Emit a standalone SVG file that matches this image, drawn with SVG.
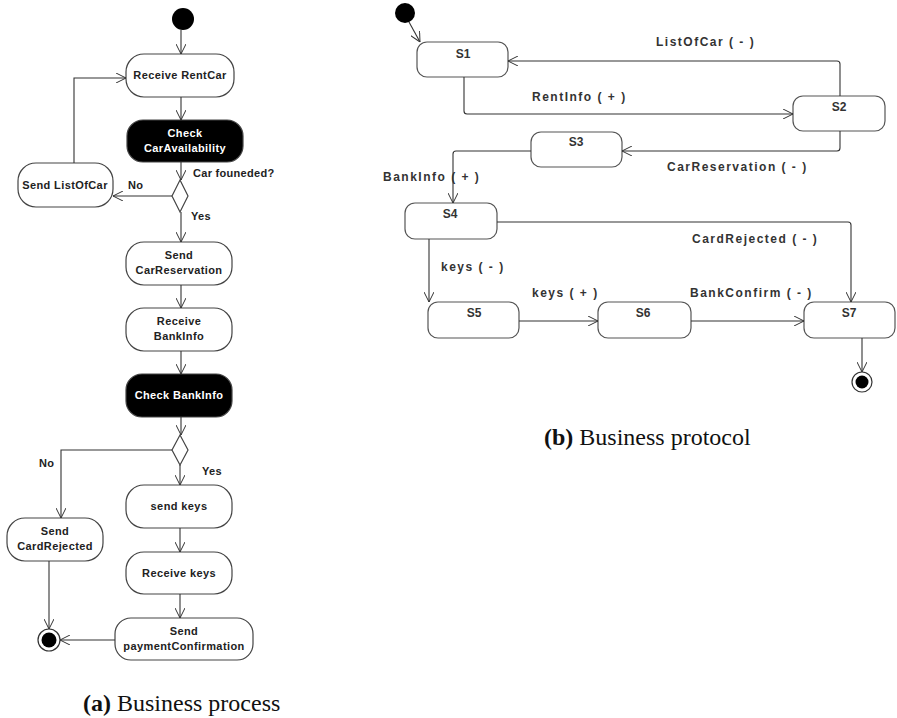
<svg xmlns="http://www.w3.org/2000/svg" width="897" height="718" viewBox="0 0 897 718">
  <defs>
    <marker id="open" viewBox="0 0 10 10" refX="10" refY="5" markerWidth="10" markerHeight="10" markerUnits="userSpaceOnUse" orient="auto">
      <path d="M0,0 L10,5 L0,10" fill="none" stroke="#333" stroke-width="1"/>
    </marker>
    <style>
      .act { fill: #fff; stroke: #444; stroke-width: 1.2; }
      .actd { fill: #000; stroke: #444; stroke-width: 1.2; }
      .st { fill: #fff; stroke: #555; stroke-width: 1.2; }
      .edge { fill: none; stroke: #333; stroke-width: 1.1; marker-end: url(#open); }
      .line { fill: none; stroke: #333; stroke-width: 1.1; }
      .t { font-family: "Liberation Sans", Arial, sans-serif; font-weight: bold; font-size: 11px; letter-spacing: 0.4px; fill: #222; text-anchor: middle; }
      .tw { fill: #fff; }
      .tl { font-family: "Liberation Sans", Arial, sans-serif; font-weight: bold; font-size: 11px; letter-spacing: 0.3px; fill: #222; }
      .s { font-family: "Liberation Sans", Arial, sans-serif; font-weight: bold; font-size: 12px; letter-spacing: 1.5px; fill: #333; }
      .sn { font-family: "Liberation Sans", Arial, sans-serif; font-weight: bold; font-size: 12px; fill: #333; text-anchor: middle; }
      .cap { font-family: "Liberation Serif", "Times New Roman", serif; font-size: 24px; fill: #111; }
    </style>
  </defs>

  <!-- (a) business process: activity diagram -->
  <g id="a-start"><circle cx="183" cy="19" r="11" fill="#000"/></g>
  <g id="a-receive-rentcar">
    <rect class="act" x="126" y="54" width="108" height="43" rx="18"/>
    <text class="t" x="180" y="79">Receive RentCar</text>
  </g>
  <g id="a-check-car">
    <rect class="actd" x="127" y="120" width="116" height="42" rx="16"/>
    <text class="t tw" x="185" y="137">Check</text>
    <text class="t tw" x="185" y="152">CarAvailability</text>
  </g>
  <g id="a-decision-1"><polygon class="act" points="180,180 188,196 180,212 172,196"/></g>
  <g id="a-send-listofcar">
    <rect class="act" x="18" y="163" width="95" height="44" rx="18"/>
    <text class="t" x="65" y="189">Send ListOfCar</text>
  </g>
  <g id="a-send-carreservation">
    <rect class="act" x="126" y="242" width="106" height="43" rx="18"/>
    <text class="t" x="179" y="259">Send</text>
    <text class="t" x="179" y="274">CarReservation</text>
  </g>
  <g id="a-receive-bankinfo">
    <rect class="act" x="126" y="308" width="106" height="43" rx="18"/>
    <text class="t" x="179" y="325">Receive</text>
    <text class="t" x="179" y="340">BankInfo</text>
  </g>
  <g id="a-check-bankinfo">
    <rect class="actd" x="126" y="374" width="106" height="43" rx="16"/>
    <text class="t tw" x="179" y="399">Check BankInfo</text>
  </g>
  <g id="a-decision-2"><polygon class="act" points="180,435 188,450 180,465 172,450"/></g>
  <g id="a-send-keys">
    <rect class="act" x="126" y="485" width="106" height="43" rx="18"/>
    <text class="t" x="179" y="510">send keys</text>
  </g>
  <g id="a-receive-keys">
    <rect class="act" x="126" y="552" width="106" height="42" rx="18"/>
    <text class="t" x="179" y="577">Receive keys</text>
  </g>
  <g id="a-send-payment">
    <rect class="act" x="115" y="618" width="138" height="42" rx="16"/>
    <text class="t" x="184" y="635">Send</text>
    <text class="t" x="184" y="650">paymentConfirmation</text>
  </g>
  <g id="a-send-cardrejected">
    <rect class="act" x="7" y="518" width="96" height="43" rx="18"/>
    <text class="t" x="55" y="535">Send</text>
    <text class="t" x="55" y="550">CardRejected</text>
  </g>
  <g id="a-end">
    <circle cx="49" cy="640" r="11" fill="#fff" stroke="#333" stroke-width="1.2"/>
    <circle cx="49" cy="640" r="7.5" fill="#000"/>
  </g>

  <g id="a-connectors">
    <path class="edge" d="M181,30 V54"/>
    <path class="edge" d="M181,97 V120"/>
    <path class="edge" d="M181,162 V180"/>
    <path class="edge" d="M172,196 H113"/>
    <path class="edge" d="M74,163 V78 H126"/>
    <path class="edge" d="M181,212 V242"/>
    <path class="edge" d="M181,285 V308"/>
    <path class="edge" d="M181,351 V374"/>
    <path class="edge" d="M181,417 V435"/>
    <path class="edge" d="M172,450 H61 V518"/>
    <path class="edge" d="M180,465 V485"/>
    <path class="edge" d="M180,528 V552"/>
    <path class="edge" d="M180,594 V618"/>
    <path class="edge" d="M49,561 V629"/>
    <path class="edge" d="M115,640 H60"/>
    <text class="tl" x="193" y="177">Car founeded?</text>
    <text class="tl" x="128" y="189">No</text>
    <text class="tl" x="191" y="220">Yes</text>
    <text class="tl" x="39" y="467">No</text>
    <text class="tl" x="202" y="475">Yes</text>
  </g>

  <text class="cap" x="83" y="711"><tspan font-weight="bold">(a)</tspan> Business process</text>

  <!-- (b) business protocol: state machine -->
  <g id="b-start"><circle cx="405" cy="13" r="10" fill="#000"/></g>
  <g id="b-s1"><rect class="st" x="417" y="42" width="91" height="35" rx="10"/><text class="sn" x="463" y="58">S1</text></g>
  <g id="b-s2"><rect class="st" x="793" y="96" width="92" height="35" rx="10"/><text class="sn" x="839" y="111">S2</text></g>
  <g id="b-s3"><rect class="st" x="531" y="132" width="91" height="35" rx="10"/><text class="sn" x="576" y="146">S3</text></g>
  <g id="b-s4"><rect class="st" x="405" y="203" width="92" height="36" rx="10"/><text class="sn" x="450" y="218">S4</text></g>
  <g id="b-s5"><rect class="st" x="428" y="302" width="91" height="36" rx="10"/><text class="sn" x="474" y="317">S5</text></g>
  <g id="b-s6"><rect class="st" x="598" y="302" width="93" height="36" rx="10"/><text class="sn" x="643" y="317">S6</text></g>
  <g id="b-s7"><rect class="st" x="804" y="302" width="91" height="36" rx="10"/><text class="sn" x="849" y="317">S7</text></g>
  <g id="b-end">
    <circle cx="862" cy="382" r="10" fill="#fff" stroke="#333" stroke-width="1.2"/>
    <circle cx="862" cy="382" r="6.5" fill="#000"/>
  </g>

  <g id="b-connectors">
    <path class="edge" d="M409,22 L420,42"/>
    <path class="edge" d="M464,77 V111 Q464,114 467,114 H793"/>
    <path class="edge" d="M840,96 V64 Q840,61 837,61 H508"/>
    <path class="edge" d="M840,131 V148 Q840,151 837,151 H622"/>
    <path class="edge" d="M531,151 H456 Q453,151 453,154 V203"/>
    <path class="edge" d="M497,222 H848 Q851,222 851,225 V302"/>
    <path class="edge" d="M429,239 V302"/>
    <path class="edge" d="M519,321 H598"/>
    <path class="edge" d="M691,321 H804"/>
    <path class="edge" d="M862,338 V372"/>
    <text class="s" x="656" y="46">ListOfCar ( - )</text>
    <text class="s" x="532" y="101">RentInfo ( + )</text>
    <text class="s" x="667" y="171">CarReservation ( - )</text>
    <text class="s" x="383" y="181">BankInfo ( + )</text>
    <text class="s" x="692" y="243">CardRejected ( - )</text>
    <text class="s" x="441" y="271">keys ( - )</text>
    <text class="s" x="532" y="297">keys ( + )</text>
    <text class="s" x="690" y="297">BankConfirm ( - )</text>
  </g>

  <text class="cap" x="544" y="445"><tspan font-weight="bold">(b)</tspan> Business protocol</text>
</svg>
